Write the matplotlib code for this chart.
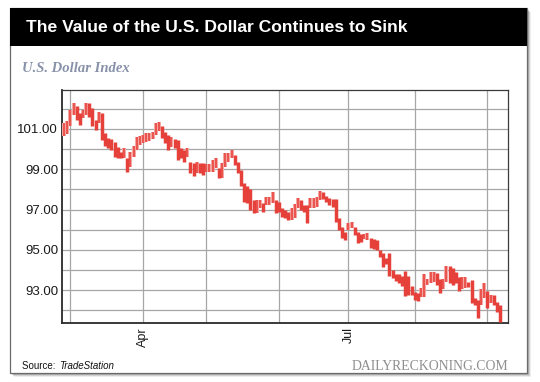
import matplotlib
matplotlib.use("Agg")
import matplotlib.pyplot as plt
from matplotlib.patches import Rectangle
import numpy as np
import pandas as pd

# ---------------- data ----------------
start_date = "2017-02-27"
highs = [101.28, 101.41, 101.94, 102.27, 102.16, 101.78, 101.94, 102.27, 102.27, 102.03,
         101.45, 101.83, 101.78, 100.78, 100.54, 100.49, 100.37, 100.12, 99.88, 100.07,
         99.54, 99.84, 100.17, 100.62, 100.67,
         100.70, 100.78, 100.82, 100.87, 101.28, 101.36, 101.15, 100.87, 100.70, 100.62,
         100.49, 100.45, 100.04, 99.96, 100.04, 99.38, 99.33, 99.35, 99.30, 99.33,
         99.26, 99.26, 99.46,
         99.54, 99.05, 99.30, 99.79, 99.79, 99.96, 99.71, 99.38, 98.97, 98.30,
         98.15, 98.01, 97.48, 97.48, 97.48, 97.31, 97.61, 97.61, 97.89, 97.48,
         97.40, 97.07,
         96.98, 96.90, 97.06, 97.26, 97.56, 97.48, 97.23, 97.23, 97.59, 97.59,
         97.64, 97.92, 97.86, 97.69, 97.59, 97.53, 97.53, 96.57, 96.15, 95.90,
         96.32, 96.40,
         96.14, 95.89, 95.81, 95.81, 95.86, 95.60, 95.53, 95.48, 95.02, 94.84,
         94.59, 94.84, 94.02, 93.80, 93.80, 93.72, 93.97, 93.69, 93.22, 92.89,
         92.84,
         93.09, 93.80, 93.58, 93.92, 93.92, 93.87, 93.54, 93.54, 94.20, 94.20,
         94.08, 93.92, 93.64, 93.64, 93.68, 93.42, 93.51, 92.60, 92.52, 93.05,
         93.38, 92.98, 92.77, 92.77, 92.44, 92.27]
lows = [100.65, 100.75, 101.17, 101.69, 101.45, 101.20, 101.53, 101.69, 101.61, 101.17,
        100.95, 101.28, 100.45, 100.16, 100.04, 99.96, 99.63, 99.54, 99.54, 99.54,
        98.85, 99.13, 99.63, 99.96, 100.21,
        100.29, 100.37, 100.42, 100.49, 100.70, 100.92, 100.54, 100.29, 99.96, 100.12,
        100.04, 99.46, 99.54, 99.38, 99.63, 98.80, 98.67, 98.80, 98.84, 98.72,
        98.88, 98.88, 98.88,
        99.05, 98.55, 98.55, 99.13, 99.37, 99.54, 99.21, 98.80, 98.15, 97.39,
        97.34, 96.98, 96.82, 96.82, 97.07, 96.90, 97.23, 97.23, 97.31, 96.85,
        96.90, 96.65,
        96.57, 96.48, 96.48, 96.60, 97.06, 96.98, 96.90, 96.32, 97.10, 97.10,
        97.15, 97.48, 97.53, 97.39, 97.23, 97.15, 96.40, 95.99, 95.57, 95.49,
        95.99, 96.07,
        95.72, 95.36, 95.39, 95.53, 95.48, 95.10, 95.07, 94.99, 94.66, 94.13,
        94.29, 93.71, 93.61, 93.47, 93.36, 93.19, 92.70, 92.74, 92.74, 92.50,
        92.45,
        92.65, 92.68, 93.26, 93.34, 93.42, 93.26, 92.88, 93.04, 93.42, 93.34,
        93.26, 93.34, 92.98, 93.04, 93.09, 93.14, 92.38, 92.27, 91.60, 92.27,
        92.60, 92.10, 92.39, 92.27, 91.94, 91.40]
ytick_values = [93, 95, 97, 99, 101]
ytick_labels = ["93.00", "95.00", "97.00", "99.00", "101.00"]
labelled_months = {4: "Apr", 7: "Jul"}
title = "The Value of the U.S. Dollar Continues to Sink"
subtitle = "U.S. Dollar Index"

# ---------------- figure ----------------
W, H = 540, 382
fig = plt.figure(figsize=(W / 100, H / 100), dpi=100)
fig.patch.set_facecolor("white")

def fx(px):
    return px / W

def fy(py):
    return 1 - py / H

# card shadow
for off, a in [(4, 0.10), (3, 0.18), (2, 0.28), (1, 0.35)]:
    fig.patches.append(Rectangle((fx(10 + off), fy(373 + off)), fx(517), 365 / H,
                                 transform=fig.transFigure, facecolor="#555555",
                                 edgecolor="none", alpha=a, zorder=0))
# card
fig.patches.append(Rectangle((fx(10), fy(373)), fx(517), 365 / H,
                             transform=fig.transFigure, facecolor="white",
                             edgecolor="#6a6a6a", linewidth=0.9, zorder=1))
# header band
fig.patches.append(Rectangle((fx(10), fy(45.5)), fx(517), 37.5 / H,
                             transform=fig.transFigure, facecolor="black",
                             edgecolor="none", zorder=2))

fig.text(fx(26), fy(27), title, color="white", fontsize=12.6, fontweight="bold",
         family="Liberation Sans", va="center", ha="left", zorder=3)
fig.text(fx(22), fy(68), subtitle, color="#8791a8", fontsize=10.5, fontweight="bold",
         style="italic", family="Liberation Serif", va="center", ha="left", zorder=3)

fig.text(fx(22.5), fy(366), "Source: ", color="#111111", fontsize=7,
         family="Liberation Sans", va="center", ha="left", zorder=3)
fig.text(fx(59), fy(366), "TradeStation", color="#111111", fontsize=7,
         style="italic", family="Liberation Sans", va="center", ha="left", zorder=3)
fig.text(fx(508.5), fy(366), "DAILYRECKONING.COM", color="#8f8f8f", fontsize=9.9,
         family="Liberation Serif", va="center", ha="right", zorder=3)

# ---------------- chart axes ----------------
left, right, top, bottom = 62.3, 508.3, 90.3, 323.3
ax = fig.add_axes([fx(left), fy(bottom), fx(right - left), (bottom - top) / H])
ax.set_zorder(5)
ax.set_facecolor("white")

n = len(highs)
dates = pd.bdate_range(start_date, periods=n)
x = np.arange(n)

# month starts -> vertical gridlines
month_pos = []
month_lab = []
for i in range(1, n):
    if dates[i].month != dates[i - 1].month:
        month_pos.append(i)
        month_lab.append(labelled_months.get(dates[i].month, ""))

hi = np.array(highs)
lo = np.array(lows)
mid = (hi + lo) / 2
up = np.r_[True, mid[1:] >= mid[:-1]]

# bars
ax.vlines(x[up], lo[up], hi[up], color="#f4a6a2", linewidth=2.9, zorder=3)
ax.vlines(x[up], lo[up], hi[up], color="#e8463f", linewidth=1.2, zorder=4)
ax.vlines(x[~up], lo[~up], hi[~up], color="#e5403a", linewidth=2.5, zorder=4)

ax.set_xlim(-0.55, 140.6)
ax.set_ylim(91.36, 102.92)

ax.set_yticks(ytick_values)
ax.set_yticklabels(ytick_labels, family="Liberation Sans", fontsize=9.5, color="#1a1a1a")
ax.set_yticks(np.arange(92, 103), minor=True)
ax.set_xticks(month_pos)
ax.set_xticklabels(month_lab, rotation=90, family="Liberation Sans", fontsize=9,
                   color="#1a1a1a", va="top", ha="center")
ax.tick_params(axis="both", which="both", length=0, pad=3)

ax.grid(True, which="both", axis="y", color="#a6a6a6", linewidth=0.9, zorder=1)
ax.grid(True, which="major", axis="x", color="#a6a6a6", linewidth=0.9, zorder=1)
ax.set_axisbelow(True)

for s in ["left", "bottom"]:
    ax.spines[s].set_color("#2a2a2a")
    ax.spines[s].set_linewidth(1.3)
for s in ["top", "right"]:
    ax.spines[s].set_color("#3a3a3a")
    ax.spines[s].set_linewidth(0.9)

fig.savefig("out.png", dpi=100, facecolor="white")
